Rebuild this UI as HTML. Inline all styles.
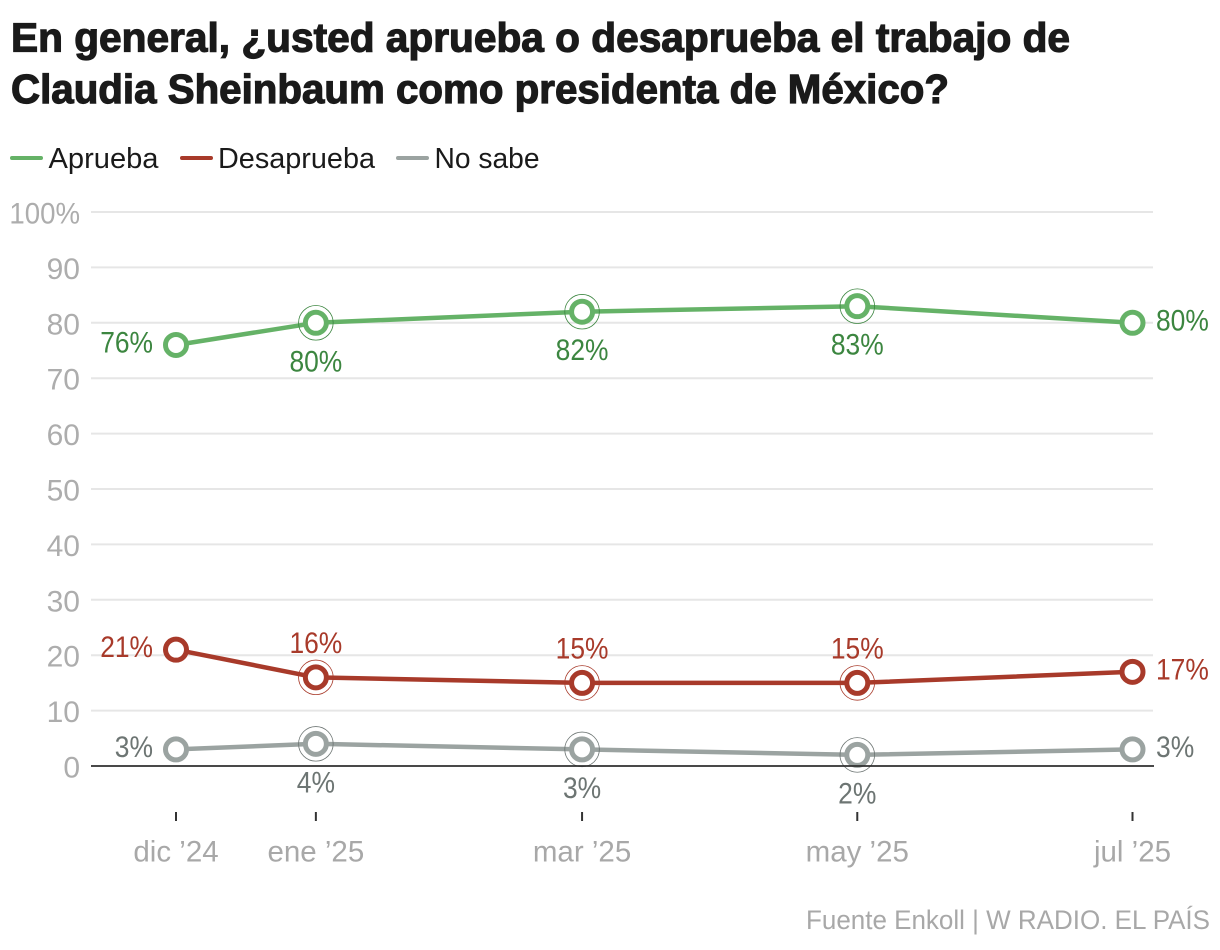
<!DOCTYPE html>
<html lang="es">
<head>
<meta charset="utf-8">
<title>Aprobación de Claudia Sheinbaum</title>
<style>
html,body{margin:0;padding:0;background:#fff;width:1220px;height:950px;overflow:hidden;font-family:"Liberation Sans",sans-serif}
#chart{position:absolute;left:0;top:0}
text{font-family:"Liberation Sans",sans-serif}
.title{font-size:41px;font-weight:700;fill:#1a1a1a;stroke:#1a1a1a;stroke-width:1.2px}
.legend{font-size:29px;fill:#1a1a1a}
.ytick{font-size:30px;fill:#adadad;text-anchor:end}
.xtick{font-size:29.5px;fill:#a8a8a8;text-anchor:middle}
.val{font-size:30px}
.src{font-size:27px;fill:#a8a8a8;text-anchor:end}
</style>
</head>
<body>
<svg id="chart" width="1220" height="950" viewBox="0 0 1220 950" xmlns="http://www.w3.org/2000/svg">
  <g>
    <text class="title" x="11" y="51.5" textLength="1059" lengthAdjust="spacingAndGlyphs">En general, ¿usted aprueba o desaprueba el trabajo de</text>
    <text class="title" x="11" y="103" textLength="938" lengthAdjust="spacingAndGlyphs">Claudia Sheinbaum como presidenta de México?</text>
  </g>
  <g>
    <line x1="12" x2="41" y1="158" y2="158" stroke="#65b267" stroke-width="4" stroke-linecap="round"/>
    <text class="legend" x="48.5" y="168" textLength="110" lengthAdjust="spacingAndGlyphs">Aprueba</text>
    <line x1="182" x2="211" y1="158" y2="158" stroke="#a83a2a" stroke-width="4" stroke-linecap="round"/>
    <text class="legend" x="218" y="168" textLength="157" lengthAdjust="spacingAndGlyphs">Desaprueba</text>
    <line x1="398" x2="427" y1="158" y2="158" stroke="#9ba3a1" stroke-width="4" stroke-linecap="round"/>
    <text class="legend" x="434.5" y="168" textLength="105" lengthAdjust="spacingAndGlyphs">No sabe</text>
  </g>
  <g id="grid"></g>
  <g id="xaxis"></g>
  <g id="series"></g>
  <g id="baseline"></g>
  <text class="src" x="1210" y="929" textLength="404" lengthAdjust="spacingAndGlyphs">Fuente Enkoll | W RADIO. EL PAÍS</text>
</svg>
<script>
const categories = ['dic ’24', 'ene ’25', 'mar ’25', 'may ’25', 'jul ’25'];
const dates = ['2024-12-01', '2025-01-01', '2025-03-01', '2025-05-01', '2025-07-01'];
const yTicks = [0, 10, 20, 30, 40, 50, 60, 70, 80, 90, 100];
const aprueba = [76, 80, 82, 83, 80];
const desaprueba = [21, 16, 15, 15, 17];
const noSabe = [3, 4, 3, 2, 3];

const SVGNS = 'http://www.w3.org/2000/svg';
const times = dates.map(function (d) { return Date.parse(d); });
const tMin = Math.min.apply(null, times);
const tMax = Math.max.apply(null, times);
function xScale(t) { return 176 + (t - tMin) / (tMax - tMin) * 956.5; }
function yScale(v) { return 766 - v * 5.54; }
function make(tag, attrs, parent) {
  const el = document.createElementNS(SVGNS, tag);
  Object.keys(attrs).forEach(function (k) { el.setAttribute(k, attrs[k]); });
  parent.appendChild(el);
  return el;
}
function squeeze(el, factor) {
  const w = el.getComputedTextLength();
  el.setAttribute('textLength', (w * factor).toFixed(1));
  el.setAttribute('lengthAdjust', 'spacingAndGlyphs');
}

const grid = document.getElementById('grid');
const baseline = document.getElementById('baseline');
yTicks.forEach(function (v) {
  const y = yScale(v);
  const line = make('line', { x1: 91, x2: v === 0 ? 1154 : 1153, y1: y, y2: y,
    stroke: v === 0 ? '#2f2f2f' : '#e6e6e6', 'stroke-width': v === 0 ? 1.7 : 2 }, v === 0 ? baseline : grid);
  
  
  const label = make('text', { class: 'ytick', x: 80, y: y + 11.5 }, grid);
  label.textContent = v === 100 ? '100%' : String(v);
  
  
  if (v === 100) squeeze(label, 0.92);
});

const xaxis = document.getElementById('xaxis');
categories.forEach(function (c, i) {
  const x = xScale(times[i]);
  const tick = make('line', { x1: x, x2: x, y1: 812, y2: 821, stroke: '#333', 'stroke-width': 2 }, xaxis);
  
  
  const label = make('text', { class: 'xtick', x: x, y: 861.5 }, xaxis);
  label.textContent = c;
  
  
});

const seriesList = [
  { key: 'aprueba', values: aprueba, line: '#65b267', text: '#3c8640', above: false },
  { key: 'desaprueba', values: desaprueba, line: '#a83a2a', text: '#a83a2a', above: true },
  { key: 'no-sabe', values: noSabe, line: '#9ba3a1', text: '#6d7573', above: false }
];
const root = document.getElementById('series');
seriesList.forEach(function (s) {
  const g = make('g', {}, root);
  
  
  const pts = s.values.map(function (v, i) { return xScale(times[i]).toFixed(1) + ',' + yScale(v).toFixed(1); }).join(' ');
  const path = make('polyline', { points: pts, fill: 'none', stroke: s.line, 'stroke-width': 4.5, 'stroke-linejoin': 'round' }, g);
  
  
  s.values.forEach(function (v, i) {
    const cx = xScale(times[i]);
    const cy = yScale(v);
    const inner = i > 0 && i < s.values.length - 1;
    if (inner) {
      const halo = make('circle', { cx: cx, cy: cy, r: 17.3, fill: 'none', stroke: s.text, 'stroke-width': 0.8 }, g);
      
      
    }
    const pt = make('circle', { cx: cx, cy: cy, r: 10.5, fill: '#fff', stroke: s.line, 'stroke-width': 5 }, g);
    
    
    let lx, ly, anchor;
    if (i === 0) { lx = cx - 23; ly = cy + 7.5; anchor = 'end'; }
    else if (i === s.values.length - 1) { lx = cx + 23.5; ly = cy + 7.5; anchor = 'start'; }
    else { lx = cx; ly = s.above ? cy - 24.5 : cy + 48.5; anchor = 'middle'; }
    const t = make('text', { class: 'val', x: lx, y: ly, 'text-anchor': anchor, fill: s.text }, g);
    t.textContent = v + '%';
    
    
    squeeze(t, 0.88);
  });
});
</script>
</body>
</html>
